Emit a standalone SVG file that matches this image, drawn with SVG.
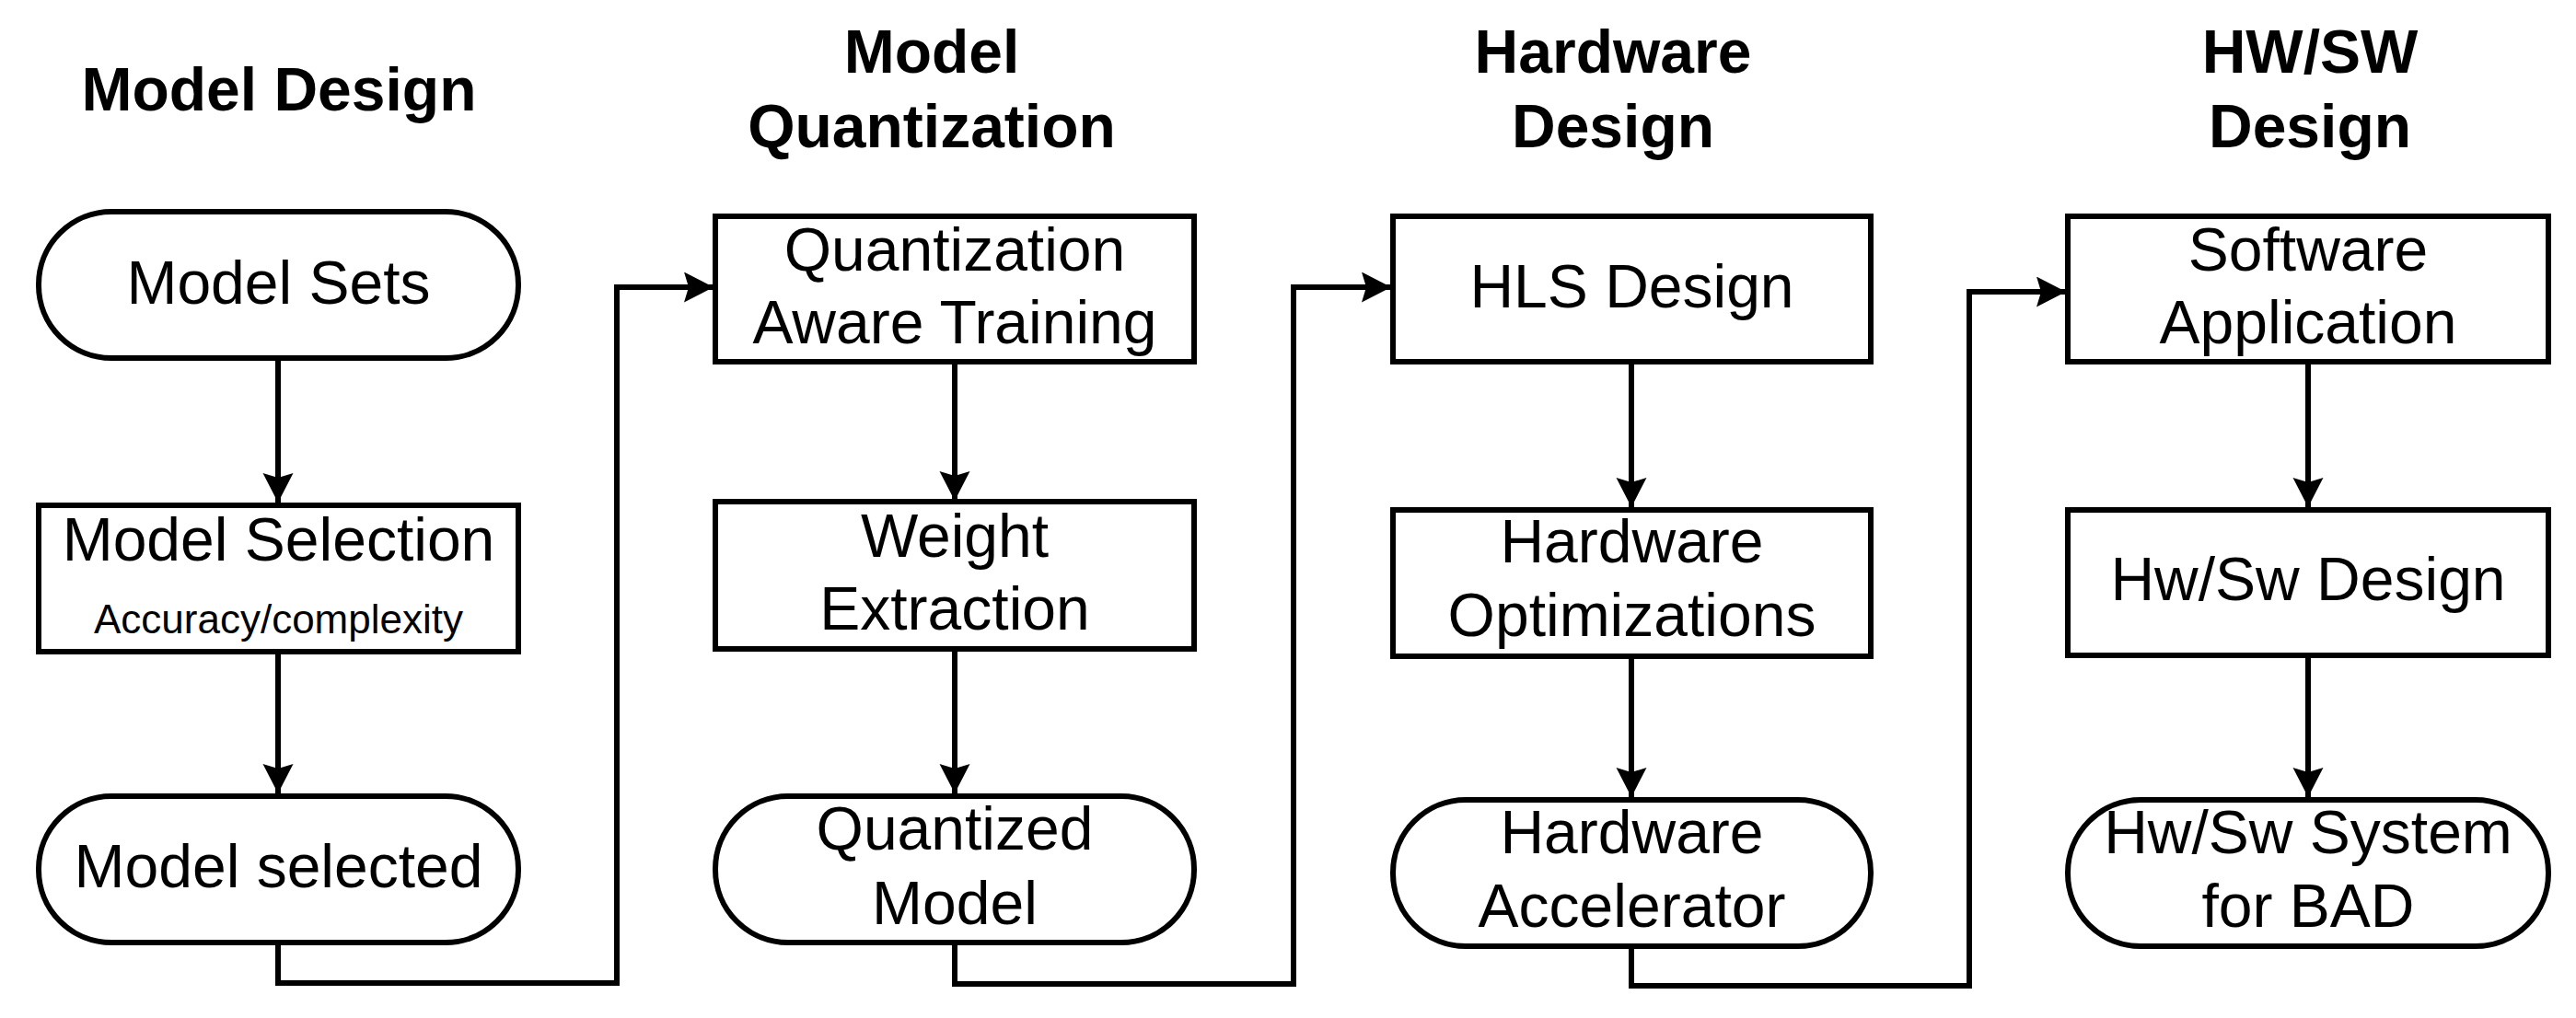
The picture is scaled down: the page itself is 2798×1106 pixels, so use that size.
<svg xmlns="http://www.w3.org/2000/svg" width="2798" height="1106" viewBox="0 0 2798 1106">
<style>
.node{fill:#fff;stroke:#000;stroke-width:6}
.t{font-family:"Liberation Sans",Arial,sans-serif;font-size:66px;fill:#000;text-anchor:middle}
.s{font-size:44px}
.h{font-weight:bold}
.c{fill:none;stroke:#000;stroke-width:6;stroke-linejoin:miter;stroke-linecap:butt}
</style>
<defs>
<marker id="ah" markerUnits="userSpaceOnUse" markerWidth="34" markerHeight="34" refX="32" refY="16.5" orient="auto" viewBox="0 0 34 34">
<path d="M0,0 L32,16.5 L0,33 L5,16.5 Z" fill="#000"/>
</marker>
</defs>
<rect width="2798" height="1106" fill="#fff"/>
<g id="titles">
<text class="t h" x="303" y="120">Model Design</text>
<text class="t h" x="1012" y="79">Model</text>
<text class="t h" x="1012" y="160">Quantization</text>
<text class="t h" x="1752" y="79">Hardware</text>
<text class="t h" x="1752" y="160">Design</text>
<text class="t h" x="2509" y="79">HW/SW</text>
<text class="t h" x="2509" y="160">Design</text>
</g>
<g id="connectors">
<path class="c" d="M302,391 L302,546" marker-end="url(#ah)"/>
<path class="c" d="M302,708 L302,862" marker-end="url(#ah)"/>
<path class="c" d="M302,1024 L302,1068 L670,1068 L670,312 L775,312" marker-end="url(#ah)"/>
<path class="c" d="M1037,393 L1037,544" marker-end="url(#ah)"/>
<path class="c" d="M1037,705 L1037,862" marker-end="url(#ah)"/>
<path class="c" d="M1037,1024 L1037,1069 L1405,1069 L1405,312 L1511,312" marker-end="url(#ah)"/>
<path class="c" d="M1772,393 L1772,551" marker-end="url(#ah)"/>
<path class="c" d="M1772,713 L1772,866" marker-end="url(#ah)"/>
<path class="c" d="M1772,1028 L1772,1071 L2139,1071 L2139,317 L2244,317" marker-end="url(#ah)"/>
<path class="c" d="M2507,393 L2507,551" marker-end="url(#ah)"/>
<path class="c" d="M2507,712 L2507,866" marker-end="url(#ah)"/>
</g>
<g id="model-sets">
<rect class="node" x="42" y="230" width="521" height="159" rx="79" ry="79"/>
<text class="t" x="302.5" y="330">Model Sets</text>
</g>
<g id="model-selection">
<rect class="node" x="42" y="549" width="521" height="159"/>
<text class="t" x="302.5" y="609">Model Selection</text>
<text class="t s" x="302.5" y="688">Accuracy/complexity</text>
</g>
<g id="model-selected">
<rect class="node" x="42" y="865" width="521" height="159" rx="79" ry="79"/>
<text class="t" x="302.5" y="964">Model selected</text>
</g>
<g id="qat">
<rect class="node" x="777" y="235" width="520" height="158"/>
<text class="t" x="1037" y="294">Quantization</text>
<text class="t" x="1037" y="373">Aware Training</text>
</g>
<g id="weight-extraction">
<rect class="node" x="777" y="545" width="520" height="160"/>
<text class="t" x="1037" y="605">Weight</text>
<text class="t" x="1037" y="684">Extraction</text>
</g>
<g id="quantized-model">
<rect class="node" x="777" y="865" width="520" height="159" rx="79" ry="79"/>
<text class="t" x="1037" y="923">Quantized</text>
<text class="t" x="1037" y="1004">Model</text>
</g>
<g id="hls-design">
<rect class="node" x="1513" y="235" width="519" height="158"/>
<text class="t" x="1772.5" y="334">HLS Design</text>
</g>
<g id="hw-opt">
<rect class="node" x="1513" y="554" width="519" height="159"/>
<text class="t" x="1772.5" y="611">Hardware</text>
<text class="t" x="1772.5" y="691">Optimizations</text>
</g>
<g id="hw-accel">
<rect class="node" x="1513" y="869" width="519" height="159" rx="79" ry="79"/>
<text class="t" x="1772.5" y="927">Hardware</text>
<text class="t" x="1772.5" y="1007">Accelerator</text>
</g>
<g id="sw-app">
<rect class="node" x="2246" y="235" width="522" height="158"/>
<text class="t" x="2507" y="294">Software</text>
<text class="t" x="2507" y="373">Application</text>
</g>
<g id="hwsw-design">
<rect class="node" x="2246" y="554" width="522" height="158"/>
<text class="t" x="2507" y="652">Hw/Sw Design</text>
</g>
<g id="hwsw-system">
<rect class="node" x="2246" y="869" width="522" height="159" rx="79" ry="79"/>
<text class="t" x="2507" y="927">Hw/Sw System</text>
<text class="t" x="2507" y="1007">for BAD</text>
</g>
</svg>
